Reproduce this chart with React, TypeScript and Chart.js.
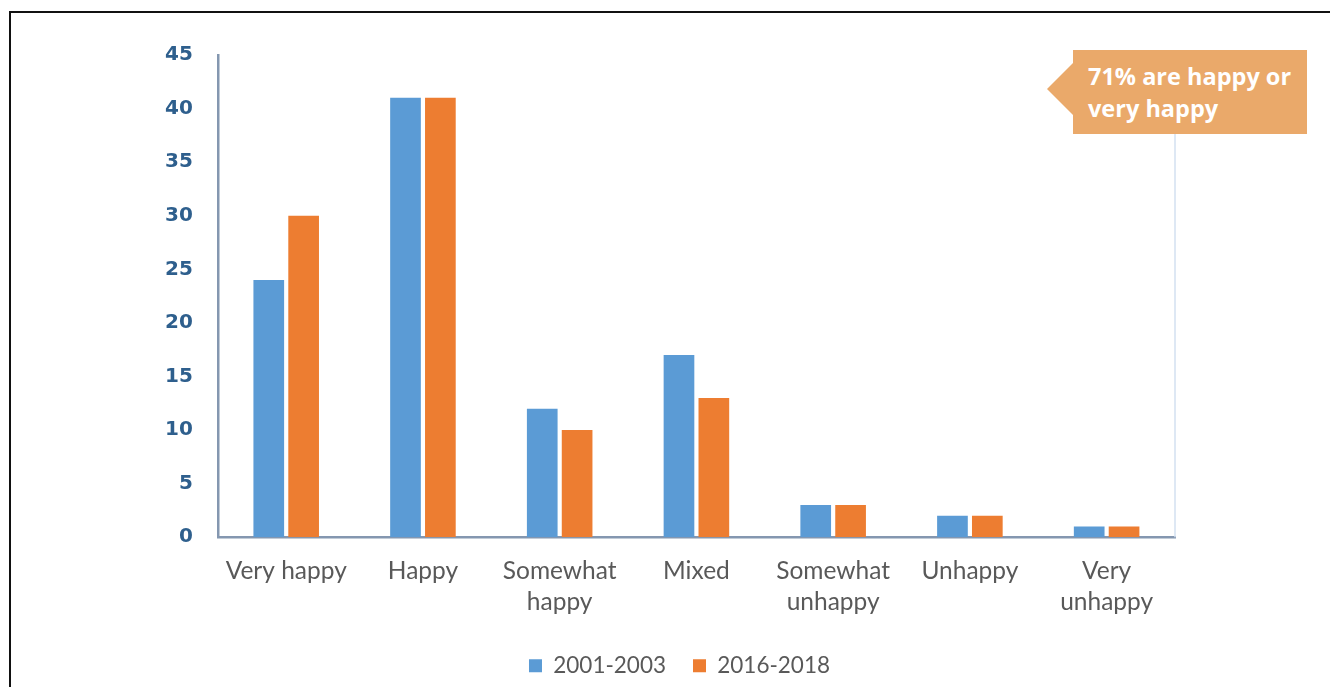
import React, { useEffect, useRef } from "react";
import { Chart, registerables } from "chart.js";

Chart.register(...registerables);

// Share of respondents by happiness level (%)
const categories: (string | string[])[] = [
  "Very happy",
  "Happy",
  ["Somewhat", "happy"],
  "Mixed",
  ["Somewhat", "unhappy"],
  "Unhappy",
  ["Very", "unhappy"],
];
const series2001: number[] = [24, 41, 12, 17, 3, 2, 1];
const series2016: number[] = [30, 41, 10, 13, 3, 2, 1];
const seriesLabels: string[] = ["2001-2003", "2016-2018"];
const yTicks = { min: 0, max: 45, step: 5 };
const calloutLines: string[] = ["71% are happy or", "very happy"];

const BLUE = "#5b9bd5";
const ORANGE = "#ed7d31";
const CALLOUT = "#eaa96a";

// Thin frame line on the right side of the plot area
const rightEdge = {
  id: "rightEdge",
  afterDraw(chart: any) {
    const { ctx, chartArea } = chart;
    ctx.save();
    ctx.strokeStyle = "#d3e1f1";
    ctx.lineWidth = 1.5;
    ctx.beginPath();
    ctx.moveTo(chartArea.right, chartArea.top);
    ctx.lineTo(chartArea.right, chartArea.bottom);
    ctx.stroke();
    ctx.restore();
  },
};

// Legend sits centred under the whole figure rather than the padded area
const legendOffset = {
  id: "legendOffset",
  afterLayout(chart: any) {
    const lg = chart.legend;
    if (!lg) return;
    lg.left += 18;
    lg.right += 18;
  },
};

export default function App() {
  const canvasRef = useRef<HTMLCanvasElement | null>(null);

  useEffect(() => {
    if (!canvasRef.current) return;
    const chart = new Chart(canvasRef.current, {
      type: "bar",
      data: {
        labels: categories,
        datasets: [
          {
            label: seriesLabels[0],
            data: series2001,
            backgroundColor: BLUE,
            barPercentage: 0.88,
            categoryPercentage: 0.51,
          },
          {
            label: seriesLabels[1],
            data: series2016,
            backgroundColor: ORANGE,
            barPercentage: 0.88,
            categoryPercentage: 0.51,
          },
        ],
      },
      options: {
        responsive: false,
        animation: false,
        layout: { padding: { left: 148, right: 155, top: 55, bottom: 0 } },
        plugins: {
          tooltip: { enabled: false },
          legend: {
            position: "bottom",
            labels: {
              boxWidth: 13,
              boxHeight: 13,
              padding: 27,
              color: "#595959",
              font: { family: "Lato", size: 22.5 },
            },
          },
        },
        scales: {
          x: {
            grid: { display: false },
            border: { display: true, color: "#8497b0", width: 2.5 },
            ticks: {
              color: "#595959",
              font: { family: "Lato", size: 24.5, lineHeight: 1.27 },
              padding: 10,
              maxRotation: 0,
              autoSkip: false,
            },
          },
          y: {
            min: yTicks.min,
            max: yTicks.max,
            grid: { display: false },
            border: { display: true, color: "#8497b0", width: 2.5 },
            ticks: {
              stepSize: yTicks.step,
              color: "#2e5f8d",
              font: { family: "DejaVu Sans", size: 20, weight: "bold" },
              padding: 17,
            },
          },
        },
      },
      plugins: [rightEdge, legendOffset],
    });
    return () => chart.destroy();
  }, []);

  return (
    <div
      style={{
        position: "fixed",
        left: 0,
        top: 0,
        width: 1330,
        height: 687,
        background: "#ffffff",
        overflow: "hidden",
      }}
    >
      <div
        style={{
          position: "absolute",
          left: 9,
          top: 11,
          right: -10,
          bottom: -10,
          borderTop: "2px solid #111",
          borderLeft: "2px solid #111",
        }}
      />
      <canvas
        ref={canvasRef}
        width={1330}
        height={687}
        style={{ position: "absolute", left: 0, top: 0 }}
      />
      <div
        style={{
          position: "absolute",
          left: 1047,
          top: 63,
          width: 0,
          height: 0,
          borderTop: "26px solid transparent",
          borderBottom: "26px solid transparent",
          borderRight: `26px solid ${CALLOUT}`,
        }}
      />
      <div
        style={{
          position: "absolute",
          left: 1073,
          top: 50,
          width: 234,
          height: 84,
          boxSizing: "border-box",
          background: CALLOUT,
          color: "#ffffff",
          fontFamily: "'Open Sans'",
          fontWeight: 700,
          fontSize: 23.5,
          lineHeight: "32px",
          padding: "10px 0 0 15px",
          whiteSpace: "nowrap",
        }}
      >
        {calloutLines.map((t, i) => (
          <div key={i}>{t}</div>
        ))}
      </div>
    </div>
  );
}
